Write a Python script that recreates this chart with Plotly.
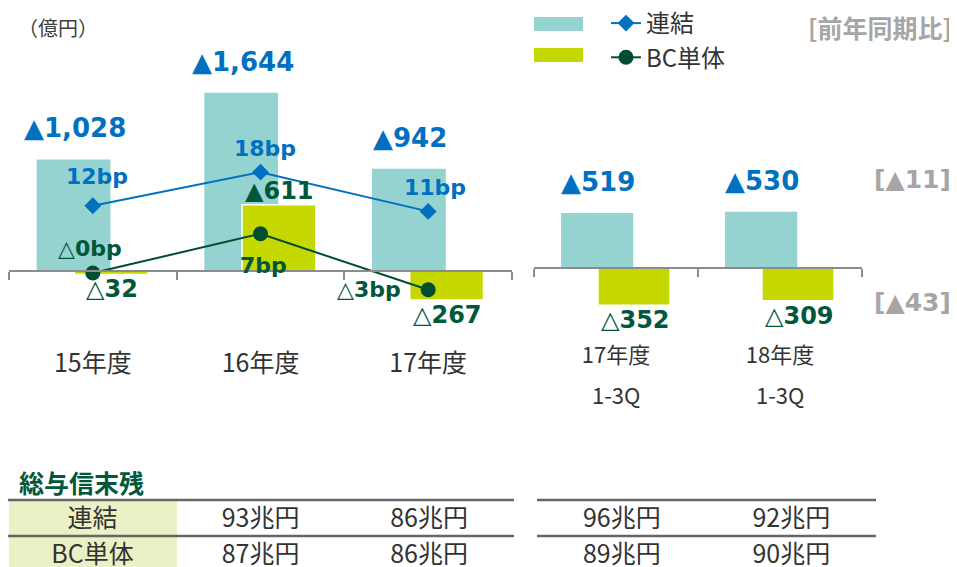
import plotly.graph_objects as go

# 年度ベース (億円)
years = ["15年度", "16年度", "17年度"]
cons_year = [1028, 1644, 942]
bc_year = [-32, 611, -267]

# 四半期累計ベース
quarters = ["17年度", "18年度"]
quarter_sub = ["1-3Q", "1-3Q"]
cons_q = [519, 530]
bc_q = [-352, -309]

# 与信コスト率 (bp)
cons_bp = [12, 18, 11]
bc_bp = [0, 7, -3]
cons_bp_text = ["12bp", "18bp", "11bp"]
bc_bp_text = ["△0bp", "7bp", "△3bp"]

# 前年同期比
yoy_text = ["[▲11]", "[▲43]"]

# 総与信末残
loan_rows = ["連結", "BC単体"]
loan_year = [["93兆円", "86兆円"], ["87兆円", "86兆円"]]
loan_q = [["96兆円", "92兆円"], ["89兆円", "90兆円"]]

W, H = 957, 567
PAGE = 8  # body margin of the html page
TEAL = "#95D3D1"
LIME = "#C5D800"
BLUE = "#0070C0"
GREEN = "#00573C"
DKGREEN = "#004D30"
GRAY_AX = "#8C8C8C"
TXT = "#333333"
JP = "Noto Sans CJK JP"
NUM = "DejaVu Sans, Noto Sans CJK JP"

# label offsets (px) for the bp labels
cons_bp_shift = [(4, 29), (4, 24), (7, 24)]
bc_bp_shift = [(-3, 25), (3, -32), (-59, 0)]


def fx(p):
    return (p - PAGE) / W


def fy(p):
    return 1 - (p - PAGE) / H


def fmt(v):
    return ("▲" if v > 0 else "△") + f"{abs(v):,}"


BAR_W = 0.44
OFF_CONS = -0.335
OFF_BC = -0.11

fig = go.Figure()

# bars, left group
fig.add_trace(go.Bar(x=years, y=cons_year, xaxis="x", yaxis="y", width=BAR_W, offset=OFF_CONS,
                     marker=dict(color=TEAL, line=dict(width=0)), showlegend=False))
fig.add_trace(go.Bar(x=years, y=bc_year, xaxis="x", yaxis="y", width=BAR_W, offset=OFF_BC,
                     marker=dict(color=LIME, line=dict(color="white", width=1.5)), showlegend=False))
# bars, right group
fig.add_trace(go.Bar(x=quarters, y=cons_q, xaxis="x2", yaxis="y2", width=BAR_W, offset=OFF_CONS,
                     marker=dict(color=TEAL, line=dict(width=0)), showlegend=False))
fig.add_trace(go.Bar(x=quarters, y=bc_q, xaxis="x2", yaxis="y2", width=BAR_W, offset=OFF_BC,
                     marker=dict(color=LIME, line=dict(color="white", width=1.5)), showlegend=False))

# bp lines
fig.add_trace(go.Scatter(x=years, y=cons_bp, xaxis="x", yaxis="y3", name="連結",
                         mode="lines+markers",
                         line=dict(color=BLUE, width=2),
                         marker=dict(symbol="diamond", size=13, color=BLUE)))
fig.add_trace(go.Scatter(x=years, y=bc_bp, xaxis="x", yaxis="y3", name="BC単体",
                         mode="lines+markers",
                         line=dict(color=DKGREEN, width=2),
                         marker=dict(symbol="circle", size=15, color=DKGREEN)))

ann = []
for vals, texts, shifts, col in [(cons_bp, cons_bp_text, cons_bp_shift, BLUE),
                                 (bc_bp, bc_bp_text, bc_bp_shift, GREEN)]:
    for c, v, t, (dx, dy) in zip(years, vals, texts, shifts):
        ann.append(dict(x=c, y=v, xref="x", yref="y3", text=t, showarrow=False,
                        xshift=dx, yshift=dy, xanchor="center", yanchor="middle",
                        font=dict(family=NUM, size=22, color=col, weight="bold")))

for xr, yr, cats, vals in [("x", "y", years, cons_year), ("x2", "y2", quarters, cons_q)]:
    for c, v in zip(cats, vals):
        ann.append(dict(x=c, y=v, xref=xr, yref=yr, text=fmt(v), showarrow=False,
                        xshift=-18, yshift=31, xanchor="center", yanchor="middle",
                        font=dict(family=NUM, size=26, color=BLUE, weight="bold")))
for xr, yr, cats, vals in [("x", "y", years, bc_year), ("x2", "y2", quarters, bc_q)]:
    for c, v in zip(cats, vals):
        ann.append(dict(x=c, y=v, xref=xr, yref=yr, text=fmt(v), showarrow=False,
                        xshift=19, yshift=14 if v > 0 else -15,
                        xanchor="center", yanchor="middle",
                        font=dict(family=NUM, size=24, color=GREEN, weight="bold")))

# second line of the quarter labels
for c, s in zip(quarters, quarter_sub):
    ann.append(dict(x=c, y=fy(394), xref="x2", yref="paper", text=s, showarrow=False,
                    xanchor="center", yanchor="middle",
                    font=dict(family=JP, size=22, color=TXT)))

# 前年同期比
for t, yp in zip(yoy_text, [179, 302]):
    ann.append(dict(x=fx(912), y=fy(yp), xref="paper", yref="paper", text=t, showarrow=False,
                    xanchor="center", yanchor="middle",
                    font=dict(family=NUM, size=25, color="#A6A6A6", weight="bold")))
ann.append(dict(x=fx(880), y=fy(27), xref="paper", yref="paper", text="[前年同期比]",
                showarrow=False, xanchor="center", yanchor="middle",
                font=dict(family=JP, size=25, color="#A6A6A6", weight="bold")))
ann.append(dict(x=fx(58), y=fy(27), xref="paper", yref="paper", text="（億円）",
                showarrow=False, xanchor="center", yanchor="middle",
                font=dict(family=JP, size=20, color="#404040")))
ann.append(dict(x=fx(17), y=fy(482), xref="paper", yref="paper", text="総与信末残",
                showarrow=False, xanchor="left", yanchor="middle",
                font=dict(family=JP, size=25, color=GREEN, weight="bold")))

# loan balance tables
LBL_FILL = "#EAF1C5"
TFONT = dict(family=JP, size=25, color=TXT)
fig.add_trace(go.Table(
    domain=dict(x=[fx(8), fx(514)], y=[fy(567), fy(500)]),
    columnwidth=[169, 167, 170],
    header=dict(values=[loan_rows[0]] + loan_year[0], height=36, align="center",
                fill=dict(color=[LBL_FILL, "white", "white"]),
                line=dict(color="white", width=1), font=TFONT),
    cells=dict(values=[[loan_rows[1]]] + [[v] for v in loan_year[1]], height=31, align="center",
               fill=dict(color=[LBL_FILL, "white", "white"]),
               line=dict(color="white", width=1), font=TFONT)))
fig.add_trace(go.Table(
    domain=dict(x=[fx(537), fx(876)], y=[fy(567), fy(500)]),
    columnwidth=[164, 164],
    header=dict(values=loan_q[0], height=36, align="center",
                fill=dict(color="white"), line=dict(color="white", width=1), font=TFONT),
    cells=dict(values=[[v] for v in loan_q[1]], height=31, align="center",
               fill=dict(color="white"), line=dict(color="white", width=1), font=TFONT)))

shapes = []
for yp in [500, 536]:
    for a, b in [(8, 514), (537, 876)]:
        shapes.append(dict(type="line", xref="paper", yref="paper", x0=fx(a), x1=fx(b),
                           y0=fy(yp), y1=fy(yp), line=dict(color="#666666", width=2.5),
                           layer="above"))
# legend swatches for the bars
for col, (t, b) in [(TEAL, (17, 31)), (LIME, (48, 62))]:
    shapes.append(dict(type="rect", xref="paper", yref="paper", x0=fx(534), x1=fx(583),
                       y0=fy(b), y1=fy(t), fillcolor=col, line=dict(width=0)))

axis_common = dict(type="category", showline=True, linecolor=GRAY_AX, linewidth=2,
                   ticks="outside", tickson="boundaries", ticklen=8, tickcolor=GRAY_AX,
                   tickwidth=2, showgrid=False, zeroline=False, fixedrange=True)

fig.update_layout(
    width=W, height=H,
    margin=dict(l=0, r=0, t=0, b=0, autoexpand=False),
    paper_bgcolor="white", plot_bgcolor="rgba(0,0,0,0)",
    barmode="overlay",
    xaxis=dict(domain=[fx(9), fx(512)], anchor="free", position=fy(271),
               range=[-0.5, 2.5], tickfont=dict(family=JP, size=25, color=TXT),
               ticklabelstandoff=70, **axis_common),
    xaxis2=dict(domain=[fx(534), fx(862)], anchor="free", position=fy(268),
                range=[-0.5, 1.5], tickfont=dict(family=JP, size=22, color=TXT),
                ticklabelstandoff=68, **axis_common),
    yaxis=dict(domain=[0, 1], anchor="x", range=[-2802, 2424], visible=False),
    yaxis2=dict(domain=[0, 1], anchor="x2", range=[-2896, 2453], visible=False),
    yaxis3=dict(overlaying="y", anchor="x", range=[-53.9, 47.3], visible=False),
    showlegend=True,
    legend=dict(x=fx(606), y=fy(1), xanchor="left", yanchor="top",
                bgcolor="rgba(0,0,0,0)", font=dict(family=JP, size=24, color=TXT),
                tracegroupgap=0),
    annotations=ann,
    shapes=shapes,
)

fig.write_html("out.html")
